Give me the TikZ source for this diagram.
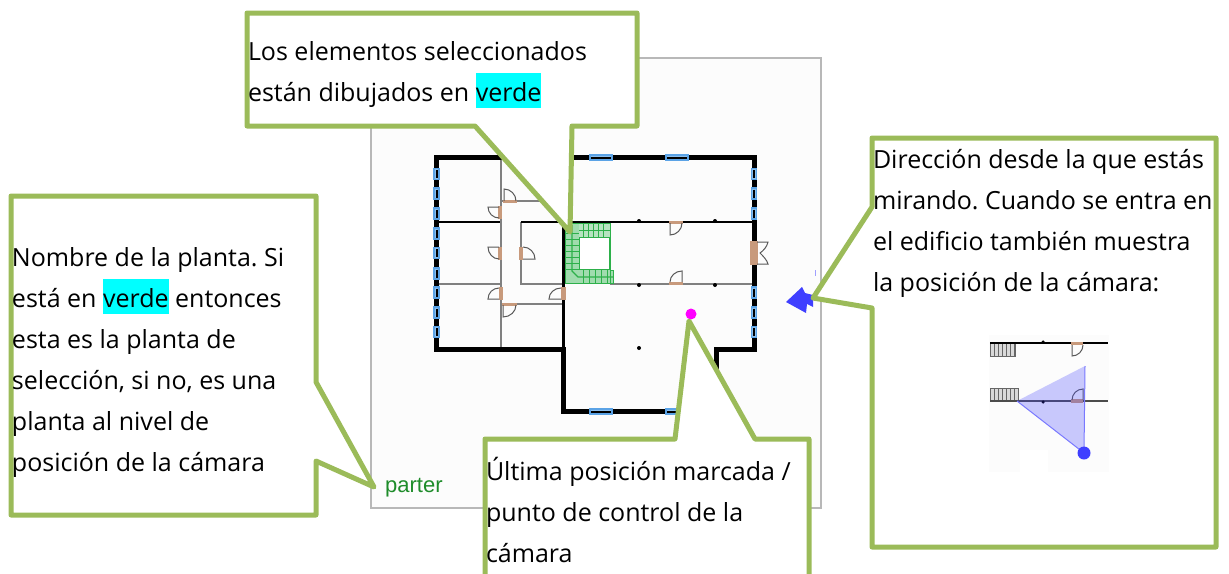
\documentclass[tikz,border=0pt]{standalone}
\usepackage{fontspec}
\setmainfont{Open Sans}
\newfontfamily\plansans{Liberation Sans}
\definecolor{lime}{HTML}{9BBB59}
\definecolor{hl}{HTML}{00FFFF}
\definecolor{winb}{HTML}{5BA3E6}
\definecolor{doorc}{HTML}{C89A7C}
\definecolor{stairg}{HTML}{2DB04A}
\definecolor{arrowb}{HTML}{3F3FFF}
\definecolor{markm}{HTML}{FF00FF}
\definecolor{partg}{HTML}{1E8C2A}
\newcommand{\hlt}[1]{\begingroup\setlength{\fboxsep}{0pt}\colorbox{hl}{\rule[-7pt]{0pt}{35pt}#1}\endgroup}
\newcommand{\firstline}{\rule{0pt}{30pt}}
\tikzset{
  callout/.style={draw=lime,line width=5pt,fill=white,line join=round,line cap=round},
  ctext/.style={anchor=north west,inner sep=0pt,outer sep=0pt,align=left,font=\fontsize{25}{41}\selectfont\frenchspacing,text=black},
  wallthick/.style={draw=black,line width=5pt,line cap=rect},
  wallthin/.style={draw=black,line width=1.6pt},
  wallgrey/.style={draw=black!50,line width=1.6pt},
  winbox/.style={draw=winb,fill=winb!70,line width=1.6pt},
  doorarc/.style={draw=black!65,line width=1pt},
  stairline/.style={draw=stairg,line width=.8pt},
  dotp/.style={circle,fill=black,inner sep=0pt,minimum size=4pt},
}
\newcommand{\winhz}[2]{%
  \draw[winbox] (#1-11,#2-2.5) rectangle (#1+11,#2+2.5);
  \draw[black,line width=2pt] (#1-10,#2) -- (#1+10,#2);}
\newcommand{\winvt}[2]{%
  \draw[winbox] (#1-2.5,#2-5.5) rectangle (#1+2.5,#2+5.5);
  \draw[black,line width=2pt] (#1,#2-4) -- (#1,#2+4);}
% hinge x,y ; leaf vector ; closing vector
\newcommand{\doorleaf}[6]{%
  \draw[doorarc] (#1,#2) -- (#1+#3,#2+#4) .. controls (#1+#3+.55*#5,#2+#4+.55*#6) and (#1+#5+.55*#3,#2+#6+.55*#4) .. (#1+#5,#2+#6);}
\begin{document}
\begin{tikzpicture}[x=1pt,y=-1pt]
\useasboundingbox (0,0) rectangle (1229,573);
\clip (0,0) rectangle (1229,573);
% sheet
\draw[fill=black!1,draw=black!28,line width=1.2pt] (371,58) rectangle (821,508);
% thin walls
\draw[wallthin] (436,222) -- (501,222);
\draw[wallgrey] (436,284) -- (501,284);
\draw[wallgrey] (501,157) -- (501,349);
\draw[wallgrey] (501,201) -- (564,201);
\draw[wallgrey] (501,304) -- (564,304);
\draw[wallgrey] (521,222) -- (521,284) -- (564,284);
\draw[wallthin] (521,222) -- (753,222);
\draw[wallgrey] (610,284) -- (753,284);
\draw[draw=black,line width=3pt] (563,222) -- (563,349);
% thick walls
\draw[wallthick] (564,157.5) -- (754,157.5) -- (754,349) -- (716,349) -- (716,411.5) -- (563,411.5) -- (563,349) -- (436,349) -- (436,157.5) -- (501,157.5);
% windows
\winhz{601}{157.5}\winhz{677}{157.5}\winhz{601}{411.5}\winhz{677}{411.5}
\foreach \y in {174,193.5,213.5,292.5,312.5,332}{\winvt{754}{\y}}
\foreach \y in {174,193.5,213.5,233.5,253,273.5,292.5,312.5,332}{\winvt{436.5}{\y}}
% door panels
\foreach \a/\b/\c/\d in {503/200/517/203, 498/206/502/219, 498/247/502/260, 519/247/523/260, 499/287/503/300, 561/287/566/300, 502/303/517/306, 669/221/683/224, 669/282/683/285, 750/241/758/265}{
  \fill[doorc] (\a,\b) rectangle (\c,\d);}
% door leaves
\doorleaf{504}{201}{0}{-12}{12}{0}
\doorleaf{499}{207}{-11}{0}{0}{11}
\doorleaf{499}{247}{-11}{0}{0}{12}
\doorleaf{523}{259}{12}{0}{0}{-12}
\doorleaf{499}{299}{-11}{0}{0}{-11}
\doorleaf{561}{299}{-12}{0}{0}{-11}
\doorleaf{503}{305}{0}{12}{13}{0}
\doorleaf{670}{223}{0}{12}{12}{0}
\doorleaf{682}{282}{0}{-11}{-12}{0}
\draw[doorarc] (757,242) -- (768,242) .. controls (767,247) and (763,251) .. (760,253) .. controls (763,256) and (767,260) .. (768,264) -- (757,264);
% posts
\foreach \x/\y [count=\i] in {639/221,715/221,639/285,715/285,639/348}{\node[dotp] (post\i) at (\x,\y) {};}
% stairs green
\fill[stairg!45] (565,223) rectangle (579,283);
\fill[stairg!45] (565,270) rectangle (613,283);
\fill[stairg!35] (579,223) rectangle (610,237);
\draw[stairline] (565,223) rectangle (610,283);
\fill[white] (579,237) rectangle (609,269);
\draw[stairline] (579,237) rectangle (609,269);
\draw[stairline] (610,270) -- (613,270) -- (613,283) -- (565,283);
\draw[stairline,line width=1.2pt] (572,225) -- (572,271) -- (578,277) -- (613,277);
\foreach \x in {583,588,593,598,603}{\draw[stairline] (\x,223) -- (\x,237);}
\foreach \x in {583,589,595,601,607}{\draw[stairline] (\x,270) -- (\x,283);}
\foreach \y in {233,239,245,251,257,263,269}{\draw[stairline] (565,\y) -- (579,\y);}
\draw[stairline] (579,230) -- (610,230);
% magenta dot
\node[circle,fill=markm,inner sep=0pt,minimum size=11pt] (markdot) at (691,314) {};
% blue arrow
\fill[arrowb] (786,302) -- (802,287) -- (805,293) -- (813,295) -- (813,307) -- (807,304) -- (806,313) -- cycle;
\fill[arrowb!50] (815,270) rectangle (816,276);
% parter
\node[anchor=west,inner sep=0pt,text=partg,font=\plansans\fontsize{22}{24}\selectfont] (parter) at (385,488) {parter};
% callouts
\draw[callout] (247,13) -- (637,13) -- (637,126) -- (572,126) -- (570,232) -- (475,126) -- (247,126) -- cycle;
\draw[callout] (11,196) -- (316,196) -- (316,382) -- (374,487) -- (316,461) -- (316,515) -- (11,515) -- cycle;
\draw[callout] (872,138) -- (1216,138) -- (1216,547) -- (872,547) -- (872,308) -- (813,298) -- (872,207) -- cycle;
\draw[callout] (485,600) -- (485,439) -- (675,439) -- (689,321) -- (755,439) -- (809,439) -- (809,600);
% callout texts
\node[ctext] (t1) at (248,30) {\firstline Los elementos seleccionados\\están dibujados en \hlt{verde}};
\node[ctext] (t2) at (12,236) {\firstline Nombre de la planta. Si\\está en \hlt{verde} entonces\\esta es la planta de\\selección, si no, es una\\planta al nivel de\\posición de la cámara};
\node[ctext] (t3) at (873,138) {\firstline Dirección desde la que estás\\mirando. Cuando se entra en\\el edificio también muestra\\la posición de la cámara:};
\node[ctext] (t4) at (486,450) {\firstline Última posición marcada /\\punto de control de la\\cámara};
% inset
\fill[black!1] (989,335) rectangle (1109,472);
\fill[white] (1020,450) rectangle (1048,472);
\fill[black!15] (990,343) rectangle (1015,356);
\fill[black!15] (990,388) rectangle (1018,401);
\foreach \x in {990,994,...,1014}{\draw[black!60,line width=.8pt] (\x,343) -- (\x,356);}
\draw[black!60,line width=.8pt] (990,356) -- (1015,356) -- (1015,343);
\foreach \x in {990,994,...,1018}{\draw[black!60,line width=.8pt] (\x,388) -- (\x,401);}
\draw[black!60,line width=.8pt] (990,388) -- (1018,388);
\draw[black,line width=1.4pt] (990,343) -- (1108,343);
\draw[black!70,line width=1.4pt] (990,401) -- (1108,401);
\fill[doorc] (1071,342) rectangle (1083,345);
\fill[doorc] (1071,399) rectangle (1083,403);
\doorleaf{1072}{345}{0}{11}{11}{0}
\doorleaf{1083}{400}{0}{-11}{-11}{0}
\node[dotp,minimum size=3.5pt] (ip1) at (1043,342) {};
\node[dotp,minimum size=3.5pt] (ip2) at (1043,402) {};
\fill[arrowb,fill opacity=.27] (1017,401) -- (1085,366) -- (1084,453) -- cycle;
\draw[arrowb!70,line width=1pt] (1017,401) -- (1084,453) -- (1085,366);
\node[circle,fill=arrowb,inner sep=0pt,minimum size=13pt] (camdot) at (1084,453) {};
\end{tikzpicture}
\end{document}
